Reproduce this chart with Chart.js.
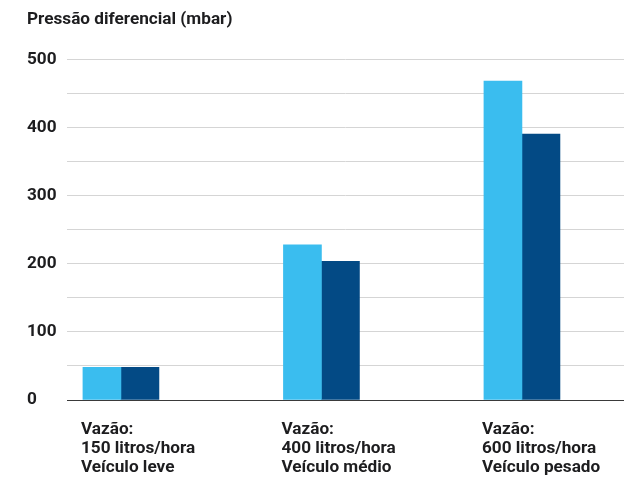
<!DOCTYPE html>
<html lang="pt">
<head>
<meta charset="utf-8">
<script src="https://cdn.jsdelivr.net/npm/chart.js@4/dist/chart.umd.min.js"></script>
<style>
    html, body { margin: 0; padding: 0; background: #ffffff; }
    #caixa { width: 624px; height: 477px; }
</style>
</head>
<body>
<div id="caixa"><canvas id="graficaBarras"></canvas></div>
<script>
// categorias (uma linha por item do rótulo)
const categorias = [
    ["Vazão:", "150 litros/hora", "Veículo leve"],
    ["Vazão:", "400 litros/hora", "Veículo médio"],
    ["Vazão:", "600 litros/hora", "Veículo pesado"]
];

// pressão diferencial em mbar
const serieClara = [48, 228, 469];
const serieEscura = [48, 204, 391];

// marcas com texto no eixo y
const marcasY = [0, 100, 200, 300, 400, 500];

const corTexto = "#1d1d1f";
const fonteBase = { family: "Roboto", size: 17.2, weight: "bold", lineHeight: 1.12 };

new Chart(document.getElementById("graficaBarras"), {
    type: "bar",
    data: {
        labels: categorias.map((c, i) => i),
        datasets: [
            {
                label: "Série 1",
                data: serieClara,
                backgroundColor: "#3abdef",
                barThickness: 38
            },
            {
                label: "Série 2",
                data: serieEscura,
                backgroundColor: "#034a85",
                barThickness: 38
            }
        ]
    },
    options: {
        responsive: true,
        maintainAspectRatio: false,
        animation: false,
        layout: {
            padding: { top: 0, left: 27, right: 0, bottom: 0 }
        },
        plugins: {
            legend: { display: false },
            tooltip: { enabled: false },
            title: {
                display: true,
                text: "Pressão diferencial (mbar)",
                align: "start",
                color: corTexto,
                font: fonteBase,
                padding: { top: 10, bottom: 30.7 }
            }
        },
        scales: {
            x: {
                type: "linear",
                offset: false,
                min: -0.269,
                max: 2.509,
                grid: { display: false, drawTicks: false },
                border: { display: true, color: "#3a3a3a", width: 1, z: 1 },
                afterBuildTicks: (escala) => {
                    escala.ticks = categorias.map((c, i) => ({ value: i }));
                },
                afterFit: (escala) => {
                    escala.paddingLeft = 0;
                    escala.paddingRight = 0;
                    escala.height = 77;
                },
                ticks: {
                    autoSkip: false,
                    maxRotation: 0,
                    align: "start",
                    labelOffset: -40,
                    padding: 20,
                    color: corTexto,
                    font: fonteBase,
                    callback: (valor) => categorias[valor]
                }
            },
            y: {
                min: 0,
                max: 500,
                grid: { color: "#d5d5d5", lineWidth: 1, drawTicks: false },
                border: { display: false },
                afterFit: (escala) => {
                    escala.width = 40;
                },
                ticks: {
                    stepSize: 50,
                    crossAlign: "far",
                    color: corTexto,
                    font: fonteBase,
                    callback: (valor) => marcasY.includes(valor) ? valor : ""
                }
            }
        }
    }
});
</script>
</body>
</html>
